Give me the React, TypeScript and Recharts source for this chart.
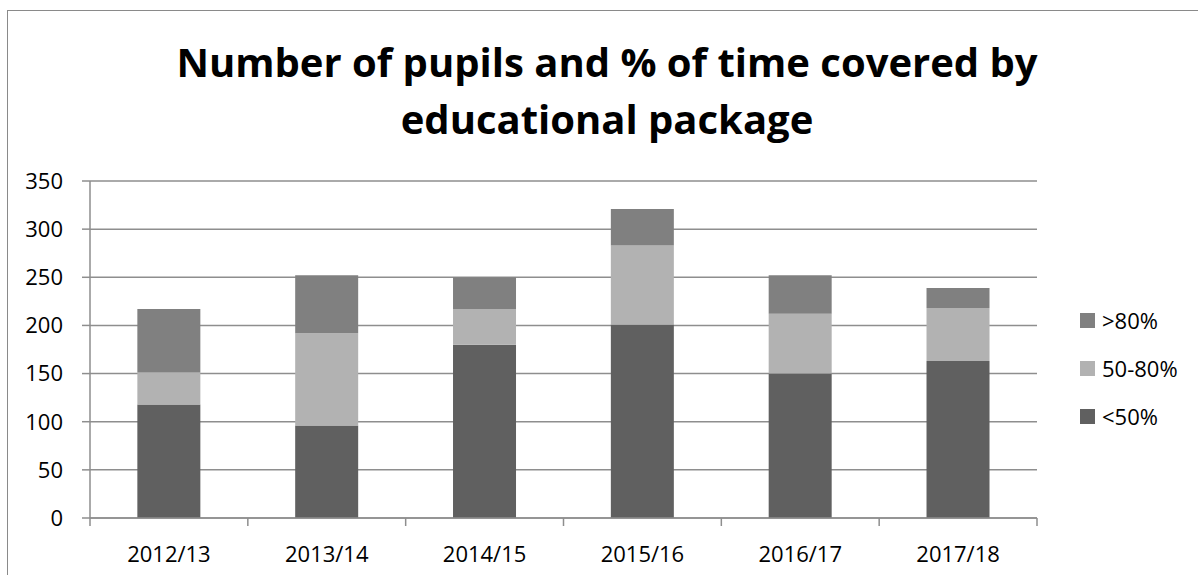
import React from "react";
import { Bar, BarChart, CartesianGrid, XAxis, YAxis } from "recharts";

// school years on the category axis
const years = ["2012/13", "2013/14", "2014/15", "2015/16", "2016/17", "2017/18"];

// pupils per band of time covered, stacked bottom to top
const under50 = [118, 96, 180, 201, 150, 163];
const from50to80 = [33, 96, 37, 82, 62, 55];
const over80 = [66, 60, 33, 38, 40, 21];

const yTicks = [0, 50, 100, 150, 200, 250, 300, 350];

const series = [
  { key: "under50", name: "<50%", color: "#606060", values: under50 },
  { key: "from50to80", name: "50-80%", color: "#b2b2b2", values: from50to80 },
  { key: "over80", name: ">80%", color: "#808080", values: over80 },
];

const data = years.map((year, i) => {
  const row: Record<string, string | number> = { year };
  series.forEach((s) => {
    row[s.key] = s.values[i];
  });
  return row;
});

const FONT = "'Open Sans', 'Liberation Sans', sans-serif";
const GRID = "#8e8e8e";

// category label plus Excel-style tick marks on the category boundaries
const YearTick = (props: any) => {
  const { x, y, payload, index } = props;
  const half = payload && payload.offset ? payload.offset : 0;
  const axisY = y - 28;
  return (
    <g>
      {half > 0 && (
        <line x1={x - half} x2={x - half} y1={axisY} y2={axisY + 8} stroke={GRID} strokeWidth={1.5} />
      )}
      {half > 0 && index === years.length - 1 && (
        <line x1={x + half} x2={x + half} y1={axisY} y2={axisY + 8} stroke={GRID} strokeWidth={1.5} />
      )}
      <text x={x} y={y} dy="0.71em" textAnchor="middle" fill="#000" fontSize={22} fontFamily={FONT}>
        {payload.value}
      </text>
    </g>
  );
};

export default function App() {
  return (
    <div
      style={{
        position: "fixed",
        left: 0,
        top: 0,
        width: 1198,
        height: 575,
        background: "#fff",
        overflow: "hidden",
        fontFamily: FONT,
      }}
    >
      {/* chart frame */}
      <div
        style={{
          position: "absolute",
          left: 7,
          top: 10,
          width: 1200,
          height: 620,
          border: "1.5px solid #8a8a8a",
        }}
      />
      <div
        style={{
          position: "absolute",
          left: 7,
          top: 33,
          width: 1200,
          textAlign: "center",
          fontSize: 40,
          fontWeight: 700,
          lineHeight: "57px",
          color: "#000",
        }}
      >
        Number of pupils and % of time covered by
        <br />
        educational package
      </div>

      <div style={{ position: "absolute", left: 0, top: 0 }}>
        <BarChart
          width={1198}
          height={575}
          data={data}
          margin={{ top: 181, right: 161, left: 0, bottom: 0 }}
          barCategoryGap="30%"
        >
          <CartesianGrid vertical={false} stroke={GRID} strokeWidth={1.5} />
          <XAxis
            dataKey="year"
            height={57}
            tickSize={0}
            tickMargin={28}
            interval={0}
            axisLine={{ stroke: GRID, strokeWidth: 1.5 }}
            tickLine={false}
            tick={<YearTick />}
          />
          <YAxis
            width={90}
            domain={[0, 350]}
            ticks={yTicks}
            interval={0}
            tickSize={8}
            tickMargin={19}
            axisLine={{ stroke: GRID, strokeWidth: 1.5 }}
            tickLine={{ stroke: GRID, strokeWidth: 1.5 }}
            tick={{ fill: "#000", fontSize: 22, fontFamily: FONT }}
          />
          {series.map((s) => (
            <Bar
              key={s.key}
              dataKey={s.key}
              name={s.name}
              stackId="a"
              fill={s.color}
              isAnimationActive={false}
            />
          ))}
        </BarChart>
      </div>

      {/* legend, top item is the top of the stack */}
      <div style={{ position: "absolute", left: 1080, top: 296 }}>
        {[...series].reverse().map((s) => (
          <div
            key={s.key}
            style={{ display: "flex", alignItems: "center", height: 48 }}
          >
            <span
              style={{
                display: "inline-block",
                width: 15,
                height: 15,
                background: s.color,
                marginRight: 7,
              }}
            />
            <span style={{ fontSize: 22, color: "#000" }}>{s.name}</span>
          </div>
        ))}
      </div>
    </div>
  );
}
